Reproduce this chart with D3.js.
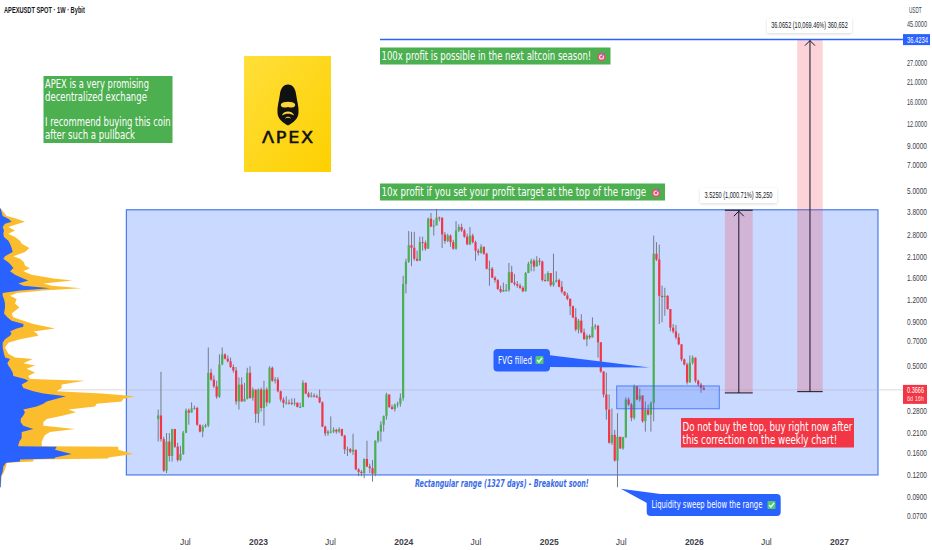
<!DOCTYPE html>
<html lang="en">

<head>
    <meta charset="utf-8">
    <script src="https://cdnjs.cloudflare.com/ajax/libs/d3/7.8.5/d3.min.js"></script>
    <style>
        body { margin: 0; background: #fff; }
        text { font-family: "DejaVu Sans", sans-serif; }
        .small { font-family: "Liberation Sans", sans-serif; }
    </style>
</head>

<body>
    <script>
        var w = 932;
        var h = 550;

        // weekly candles. open = previous close
        var firstWeek = "2022-04-25";
        var firstOpen = 0.25;
        var closes = [
            .262, .192, .127, .186, .154, .219, .174, .146, .158, .209, .28, .272, .287, .289, .232, .212, .226, .23, .459, .42,
            .384, .335, .512, .584, .552, .534, .495, .473, .315, .393, .315, .326, .459, .33, .368, .268, .368, .289, .368, .311,
            .49, .413, .42, .36, .323, .309, .31, .309, .306, .31, .293, .293, .402, .35, .335, .34, .337, .333, .311, .226,
            .207, .212, .212, .217, .212, .219, .201, .168, .168, .163, .167, .129, .125, .123, .148, .134, .131, .122, .188, .212,
            .232, .26, .345, .293, .285, .302, .306, .33, 1.47, 1.97, 2.45, 2.37, 2.05, 2.0, 2.55, 2.53, 2.34, 3.47, 3.13, 3.17,
            3.52, 3.5, 2.82, 2.59, 2.78, 2.55, 2.34, 2.97, 3.11, 2.97, 2.74, 2.48, 2.78, 2.55, 2.28, 2.22, 2.4, 2.19, 1.8, 1.8,
            1.6, 1.55, 1.38, 1.33, 1.36, 1.36, 1.72, 1.5, 1.47, 1.44, 1.4, 1.34, 1.7, 1.92, 2.0, 1.85, 2.0, 1.98, 1.55, 1.53,
            1.7, 1.45, 1.52, 1.55, 1.42, 1.33, 1.27, 1.21, 1.1, .95, .81, .91, .78, .712, .745, .73, .84, .85, .685, .467,
            .345, .283, .183, .203, .145, .198, .17, .197, .323, .302, .254, .384, .323, .34, .243, .283, .265, .309, 2.19, 2.03,
            1.26, 1.24, 1.26, 1.06, .83, .79, .73, .667, .547, .512, .405, .524, .56, .413, .393, .376, .3666
        ];
        var highs = [
            .283, .465, .198, .208, .208, .22, .22, .183, .176, .214, .287, .287, .311, .298, .294, .232, .232, .235, .64, .484,
            .443, .413, .584, .64, .592, .576, .56, .512, .495, .432, .432, .402, .49, .5, .378, .368, .373, .378, .413, .378,
            .5, .498, .433, .433, .363, .332, .337, .323, .328, .328, .31, .31, .416, .404, .358, .355, .35, .345, .368, .315,
            .229, .217, .259, .224, .22, .224, .22, .203, .174, .171, .206, .167, .131, .128, .149, .188, .139, .146, .189, .215,
            .243, .262, .353, .345, .302, .306, .314, .35, 1.64, 2.05, 2.95, 2.92, 2.92, 2.28, 2.74, 2.74, 2.6, 3.52, 3.74, 3.42,
            3.95, 3.57, 3.55, 2.91, 2.85, 2.82, 2.63, 3.36, 3.22, 3.25, 3.04, 2.85, 3.11, 2.85, 2.6, 2.34, 2.48, 2.4, 2.22, 2.0,
            1.84, 1.63, 1.57, 1.44, 1.5, 1.47, 1.94, 1.87, 1.68, 1.53, 1.48, 1.43, 1.72, 1.97, 2.05, 2.05, 2.12, 2.07, 2.0, 1.68,
            1.74, 1.68, 2.19, 1.74, 1.58, 1.53, 1.34, 1.31, 1.22, 1.11, 1.07, .93, .99, .82, .76, .76, .95, .87, .86, .685,
            .467, .46, .345, .287, .217, .27, .198, .198, .332, .332, .309, .393, .384, .373, .342, .315, .302, .315, 2.78, 2.55,
            2.47, 1.44, 1.4, 1.27, 1.06, .87, .86, .77, .667, .553, .524, .576, .576, .56, .42, .402, .388
        ];
        var lows = [
            .186, .186, .125, .123, .143, .143, .171, .143, .144, .156, .208, .232, .273, .283, .229, .21, .197, .223, .225, .413,
            .376, .326, .33, .507, .547, .526, .489, .46, .302, .283, .314, .315, .323, .326, .318, .238, .238, .276, .229, .295,
            .306, .408, .399, .355, .314, .29, .302, .302, .3, .298, .291, .291, .292, .346, .33, .332, .332, .33, .308, .226,
            .2, .201, .207, .208, .206, .208, .199, .158, .154, .16, .156, .128, .118, .118, .115, .133, .123, .11, .118, .183,
            .186, .212, .248, .289, .283, .276, .291, .294, .318, 1.3, 1.94, 1.86, 2.0, 1.98, 1.99, 2.28, 2.28, 2.34, 3.11, 2.78,
            3.2, 3.35, 2.36, 2.5, 2.55, 2.4, 2.31, 2.31, 2.91, 2.92, 2.7, 2.45, 2.45, 2.51, 2.0, 2.14, 2.19, 2.16, 1.78, 1.44,
            1.59, 1.5, 1.36, 1.31, 1.33, 1.33, 1.33, 1.49, 1.44, 1.4, 1.38, 1.32, 1.33, 1.7, 1.74, 1.74, 1.88, 1.88, 1.52, 1.52,
            1.52, 1.42, 1.42, 1.5, 1.41, 1.3, 1.26, 1.19, .98, .94, .79, .77, .77, .71, .65, .712, .73, .81, .56, .459,
            .332, .248, .181, .178, .143, .102, .169, .167, .195, .298, .243, .248, .319, .314, .238, .212, .262, .212, .243, 1.99,
            .87, .89, .97, 1.05, .79, .77, .712, .66, .534, .505, .393, .402, .512, .402, .384, .353, .365
        ];

        // volume profile on the left edge, in arbitrary volume units
        var profilePrices = [
            3.97, 3.59, 3.47, 3.33, 3.25, 3.11, 2.97, 2.85, 2.73, 2.6, 2.5, 2.36, 2.24, 2.12, 2.05, 1.96, 1.87, 1.81, 1.74, 1.66,
            1.58, 1.54, 1.48, 1.44, 1.39, 1.35, 1.31, 1.26, 1.21, 1.14, 1.08, 1.0, .95, .91, .87, .84, .82, .79, .77, .745,
            .712, .68, .64, .59, .56, .55, .52, .505, .484, .46, .44, .423, .413, .393, .376, .36, .35, .337, .326, .315,
            .306, .295, .283, .273, .262, .25, .24, .229, .219, .211, .203, .195, .186, .178, .175, .174, .167, .158, .151, .149,
            .147, .143, .141, .134, .125, .118, .102
        ];
        var profileUp = [
            2, 8, 25, 35, 15, 8, 12, 10, 12, 25, 30, 35, 38, 15, 10, 25, 35, 40, 30, 45,
            70, 85, 55, 70, 150, 60, 8, 8, 12, 15, 15, 12, 22, 35, 70, 70, 50, 30, 35, 30,
            15, 8, 8, 12, 15, 30, 22, 25, 32, 38, 40, 75, 85, 65, 70, 100, 130, 198, 170, 140,
            130, 110, 70, 75, 70, 62, 62, 70, 100, 65, 65, 65, 58, 55, 55, 170, 165, 215, 165, 165,
            60, 60, 18, 10, 8, 3, 2
        ];
        var profileTotal = [
            2, 20, 50, 75, 55, 25, 45, 25, 45, 60, 65, 88, 75, 40, 60, 72, 75, 90, 70, 95,
            160, 218, 130, 155, 245, 130, 50, 30, 50, 45, 58, 35, 40, 70, 100, 140, 165, 100, 110, 115,
            60, 25, 15, 25, 45, 98, 70, 105, 80, 105, 85, 90, 255, 185, 185, 170, 305, 405, 370, 365,
            290, 285, 205, 228, 190, 140, 130, 130, 225, 150, 135, 130, 125, 125, 125, 355, 355, 400, 325, 325,
            100, 100, 20, 18, 12, 5, 2
        ];

        var yTicks = [45, 27, 21, 16, 12, 9, 7, 5, 3.8, 2.8, 2.1, 1.6, 1.2, .9, .7, .5, .28, .21, .16, .12, .09, .07];
        var xTickDates = ["2022-07-01", "2023-01-01", "2023-07-01", "2024-01-01", "2024-07-01", "2025-01-01", "2025-07-01", "2026-01-01", "2026-07-01", "2027-01-01"];
        var xTickLabels = ["Jul", "2023", "Jul", "2024", "Jul", "2025", "Jul", "2026", "Jul", "2027"];

        var lastPrice = 0.3666;
        var targetPrice = 36.4234;
        var rangeTop = 3.9;
        var rangeBottom = 0.12;

        var green = "#4caf50";
        var red = "#f23645";
        var blue = "#2962ff";

        var x = d3.scaleUtc().domain([new Date("2023-01-01"), new Date("2027-01-01")]).range([258, 839]);
        var y = d3.scaleLog().domain([45, 0.07]).range([23.5, 516]);
        var volX = d3.scaleLinear().domain([0, 405]).range([0, 135]);

        var svg = d3.select("body").append("svg")
            .attr("width", w)
            .attr("height", h)
            .style("display", "block");

        // squeeze a text to the width it has on the chart, the font there is narrower
        function fit(sel, width) {
            sel.each(function () {
                var t = d3.select(this);
                var k = width / this.getComputedTextLength();
                var x0 = +t.attr("x") || 0;
                t.attr("x", 0).attr("transform", "translate(" + x0 + ",0) scale(" + k + ",1)");
            });
            return sel;
        }

        // range box
        svg.append("rect")
            .attr("x", x(new Date("2022-02-04")))
            .attr("width", x(new Date("2027-04-09")) - x(new Date("2022-02-04")))
            .attr("y", y(rangeTop))
            .attr("height", y(rangeBottom) - y(rangeTop))
            .attr("fill", "#c9d9ff")
            .attr("stroke", "#4a7be8")
            .attr("stroke-width", 1.2);

        // volume profile
        var profile = profilePrices.map(function (p, i) { return { price: p, up: profileUp[i], total: profileTotal[i] }; });
        var profileArea = d3.area().y(d => y(d.price)).x0(0);
        svg.append("path").datum(profile).attr("d", profileArea.x1(d => volX(d.total))).attr("fill", "#fbbc2e");
        svg.append("path").datum(profile).attr("d", profileArea.x1(d => volX(d.up))).attr("fill", blue);

        // last price line
        svg.append("line")
            .attr("x1", 60).attr("x2", 903)
            .attr("y1", y(lastPrice)).attr("y2", y(lastPrice))
            .attr("stroke", "#bfaab4")
            .attr("stroke-opacity", 0.8)
            .attr("stroke-width", 0.6);

        // candles
        var candles = closes.map(function (c, i) {
            return {
                date: d3.utcDay.offset(new Date(firstWeek), i * 7),
                open: i == 0 ? firstOpen : closes[i - 1],
                high: highs[i],
                low: lows[i],
                close: c
            };
        });

        svg.selectAll(".wick")
            .data(candles)
            .enter()
            .append("line")
            .attr("class", "wick")
            .attr("x1", d => x(d.date))
            .attr("x2", d => x(d.date))
            .attr("y1", d => y(d.high))
            .attr("y2", d => y(d.low))
            .attr("stroke", "#787b86")
            .attr("stroke-width", 1);

        svg.selectAll(".body")
            .data(candles)
            .enter()
            .append("rect")
            .attr("class", "body")
            .attr("x", d => x(d.date) - 1.1)
            .attr("width", 2.2)
            .attr("y", d => y(Math.max(d.open, d.close)))
            .attr("height", d => Math.max(1, Math.abs(y(d.open) - y(d.close))))
            .attr("fill", d => d.close >= d.open ? green : red);

        // FVG box
        svg.append("rect")
            .attr("x", x(new Date("2025-06-21")))
            .attr("width", x(new Date("2026-03-06")) - x(new Date("2025-06-21")))
            .attr("y", y(0.386))
            .attr("height", y(0.286) - y(0.386))
            .attr("fill", blue)
            .attr("fill-opacity", 0.2)
            .attr("stroke", blue)
            .attr("stroke-opacity", 0.8)
            .attr("stroke-width", 0.9);

        // long position measures
        var measures = [
            { from: "2026-03-20", to: "2026-05-29", low: 0.3522, high: 3.8772, label: "3.5250 (1,000.71%) 35,250", bx: 700, bw: 77, by: 188, tw: 68 },
            { from: "2026-09-18", to: "2026-11-21", low: 0.3581, high: targetPrice, label: "36.0652 (10,069.46%) 360,652", bx: 767, bw: 85, by: 18, tw: 76.7 }
        ];
        measures.forEach(function (m) {
            var x0 = x(new Date(m.from)), x1 = x(new Date(m.to));
            var mid = (x0 + x1) / 2;
            svg.append("rect")
                .attr("x", x0).attr("width", x1 - x0)
                .attr("y", y(m.high)).attr("height", y(m.low) - y(m.high))
                .attr("fill", red).attr("fill-opacity", 0.22);
            svg.append("line").attr("x1", mid).attr("x2", mid).attr("y1", y(m.high)).attr("y2", y(m.low))
                .attr("stroke", "#2a2438").attr("stroke-width", 1.1);
            svg.append("line").attr("x1", x0).attr("x2", x1).attr("y1", y(m.low)).attr("y2", y(m.low))
                .attr("stroke", "#131722").attr("stroke-width", 1);
            svg.append("path")
                .attr("d", "M" + (mid - 5) + "," + (y(m.high) + 6) + "L" + mid + "," + (y(m.high) + 1) + "L" + (mid + 5) + "," + (y(m.high) + 6))
                .attr("fill", "none").attr("stroke", "#131722").attr("stroke-width", 1);
        });
        svg.append("line")
            .attr("x1", x(new Date(measures[0].from))).attr("x2", x(new Date(measures[0].to)))
            .attr("y1", y(measures[0].high)).attr("y2", y(measures[0].high))
            .attr("stroke", "#131722").attr("stroke-width", 1);

        // target line
        svg.append("line")
            .attr("x1", 380).attr("x2", 903)
            .attr("y1", y(targetPrice)).attr("y2", y(targetPrice))
            .attr("stroke", blue)
            .attr("stroke-width", 1.5);

        // measure labels
        var defs = svg.append("defs");
        var shadow = defs.append("filter").attr("id", "sh").attr("x", "-10%").attr("y", "-30%").attr("width", "120%").attr("height", "160%");
        shadow.append("feDropShadow").attr("dx", 0).attr("dy", 1).attr("stdDeviation", 1.5).attr("flood-color", "#000").attr("flood-opacity", 0.15);
        measures.forEach(function (m) {
            svg.append("rect").attr("x", m.bx).attr("y", m.by).attr("width", m.bw).attr("height", 15).attr("rx", 2)
                .attr("fill", "#fff").attr("filter", "url(#sh)");
            fit(svg.append("text").attr("class", "small").attr("x", m.bx + (m.bw - m.tw) / 2).attr("y", m.by + 10.5)
                .attr("font-size", 8.5).attr("fill", "#131722").text(m.label), m.tw);
        });

        // text boxes, each line: text, baseline, width
        function box(x0, y0, bw, bh, fill, lines) {
            svg.append("rect").attr("x", x0).attr("y", y0).attr("width", bw).attr("height", bh).attr("fill", fill);
            lines.forEach(function (l) {
                fit(svg.append("text").attr("x", x0 + 1.5).attr("y", l[1]).attr("font-size", 12.5).attr("fill", "#fff").text(l[0]), l[2]);
            });
        }
        box(43.5, 76, 129, 67, green, [
            ["APEX is a very promising", 88, 104],
            ["decentralized exchange", 101, 102],
            ["I recommend buying this coin", 126.5, 126],
            ["after such a pullback", 139, 90]
        ]);
        box(380, 47.5, 230.5, 17, green, [["100x profit is possible in the next altcoin season!", 60, 210]]);
        box(380, 183.5, 285, 17, green, [["10x profit if you set your profit target at the top of the range", 196, 265]]);
        box(681, 418, 173, 29.5, red, [
            ["Do not buy the top, buy right now after", 431, 170],
            ["this correction on the weekly chart!", 444, 155]
        ]);

        function target(cx, cy) {
            svg.append("circle").attr("cx", cx).attr("cy", cy).attr("r", 4.2).attr("fill", "#e8506a");
            svg.append("circle").attr("cx", cx).attr("cy", cy).attr("r", 2.6).attr("fill", "#f6dbe0");
            svg.append("circle").attr("cx", cx).attr("cy", cy).attr("r", 1.3).attr("fill", "#e8506a");
            svg.append("line").attr("x1", cx).attr("y1", cy).attr("x2", cx + 3.5).attr("y2", cy - 4.5)
                .attr("stroke", "#4a7be8").attr("stroke-width", 1);
        }
        target(601.5, 57);
        target(656, 193);

        function check(cx, cy) {
            svg.append("rect").attr("x", cx - 4).attr("y", cy - 4).attr("width", 8).attr("height", 8).attr("rx", 1).attr("fill", "#4ecb71");
            svg.append("path").attr("d", "M" + (cx - 2.4) + "," + cy + "L" + (cx - 0.6) + "," + (cy + 2) + "L" + (cx + 2.6) + "," + (cy - 2.2))
                .attr("fill", "none").attr("stroke", "#fff").attr("stroke-width", 1.3);
        }

        // blue callouts
        svg.append("path").attr("d", "M548,355L649.5,367.5L548,367Z").attr("fill", blue);
        svg.append("rect").attr("x", 493.5).attr("y", 349).attr("width", 56.5).attr("height", 22.5).attr("rx", 4).attr("fill", blue);
        fit(svg.append("text").attr("x", 498).attr("y", 364).attr("font-size", 10.5).attr("fill", "#fff").text("FVG filled"), 34);
        check(539.5, 360);

        svg.append("path").attr("d", "M620.7,488.7L668,495L647,503Z").attr("fill", blue);
        svg.append("rect").attr("x", 646.7).attr("y", 494).attr("width", 134).attr("height", 22).attr("rx", 4).attr("fill", blue);
        fit(svg.append("text").attr("x", 651.5).attr("y", 508.5).attr("font-size", 10.5).attr("fill", "#fff").text("Liquidity sweep below the range"), 111);
        check(771.5, 505);

        fit(svg.append("text").attr("x", 415).attr("y", 487.5)
            .attr("font-size", 10).attr("font-style", "italic").attr("font-weight", "bold")
            .attr("fill", "#3a6be8")
            .text("Rectangular range (1327 days) - Breakout soon!"), 174);

        // logo
        var grad = defs.append("linearGradient").attr("id", "logoFill").attr("x1", 0).attr("y1", 0).attr("x2", 1).attr("y2", 1);
        grad.append("stop").attr("offset", 0).attr("stop-color", "#ffdf3a");
        grad.append("stop").attr("offset", 1).attr("stop-color", "#fdd000");
        svg.append("rect").attr("x", 244).attr("y", 56).attr("width", 87).attr("height", 116).attr("fill", "url(#logoFill)");
        svg.append("path")
            .attr("d", "M288,84.5C283,84.5 280.5,89 279.8,95C279,101 277,107 277.5,113C278,119 283,123 288,125.5C293,123 298,119 298.5,113C299,107 297,101 296.2,95C295.5,89 293,84.5 288,84.5Z")
            .attr("fill", "#111");
        svg.append("path").attr("d", "M281,104C283,101 293,101 295,104C296,107 293,108.5 288,107C283,108.5 280,107 281,104Z").attr("fill", "#fcd634");
        svg.append("path").attr("d", "M282,115.5C283,110 293,110 294,115.5C290,113 286,113 282,115.5Z").attr("fill", "#fcd634");
        svg.append("path").attr("d", "M285,118.5C286,116 290,116 291,118.5C289,117.5 287,117.5 285,118.5Z").attr("fill", "#fcd634");
        fit(svg.append("text").attr("x", 262).attr("y", 143)
            .attr("font-size", 15.5).attr("fill", "#111").attr("stroke", "#111").attr("stroke-width", 0.5)
            .attr("letter-spacing", 1.5).text("ΛPEX"), 53);

        // axes
        var yAxis = d3.axisRight(y).tickValues(yTicks).tickFormat(d => d.toFixed(4)).tickSize(0).tickPadding(4);
        var gy = svg.append("g").attr("transform", "translate(903,0)").call(yAxis);
        gy.select(".domain").remove();
        fit(gy.selectAll("text").attr("class", "small").attr("font-size", 8.5).attr("fill", "#3c404a"), 20);

        var xAxis = d3.axisBottom(x).tickValues(xTickDates.map(d => new Date(d)))
            .tickFormat((d, i) => xTickLabels[i]).tickSize(0).tickPadding(0);
        var gx = svg.append("g").attr("transform", "translate(0,539)").call(xAxis);
        gx.select(".domain").remove();
        gx.selectAll("text").attr("class", "small").attr("font-size", 8.5).attr("fill", "#3c404a")
            .attr("font-weight", (d, i) => xTickLabels[i] == "Jul" ? "normal" : "bold");

        fit(svg.append("text").attr("class", "small").attr("x", 909).attr("y", 13).attr("font-size", 8.5).attr("fill", "#3c404a").text("USDT"), 12.7);
        fit(svg.append("text").attr("class", "small").attr("x", 4).attr("y", 13).attr("font-size", 8.5).attr("font-weight", "bold").attr("fill", "#131722").text("APEXUSDT SPOT · 1W · Bybit"), 81);

        // price tags
        svg.append("rect").attr("x", 903).attr("y", y(targetPrice) - 5.5).attr("width", 27).attr("height", 11).attr("fill", blue);
        fit(svg.append("text").attr("class", "small").attr("x", 907).attr("y", y(targetPrice) + 3).attr("font-size", 8.5).attr("fill", "#fff").text(targetPrice.toFixed(4)), 21);
        svg.append("rect").attr("x", 903).attr("y", y(lastPrice) - 5).attr("width", 24).attr("height", 19).attr("fill", red);
        fit(svg.append("text").attr("class", "small").attr("x", 907).attr("y", y(lastPrice) + 3).attr("font-size", 8.5).attr("fill", "#fff").text(lastPrice.toFixed(4)), 17);
        fit(svg.append("text").attr("class", "small").attr("x", 907).attr("y", y(lastPrice) + 11.5).attr("font-size", 7.5).attr("fill", "#fff").attr("fill-opacity", 0.85).text("6d 16h"), 17);
    </script>
</body>

</html>
